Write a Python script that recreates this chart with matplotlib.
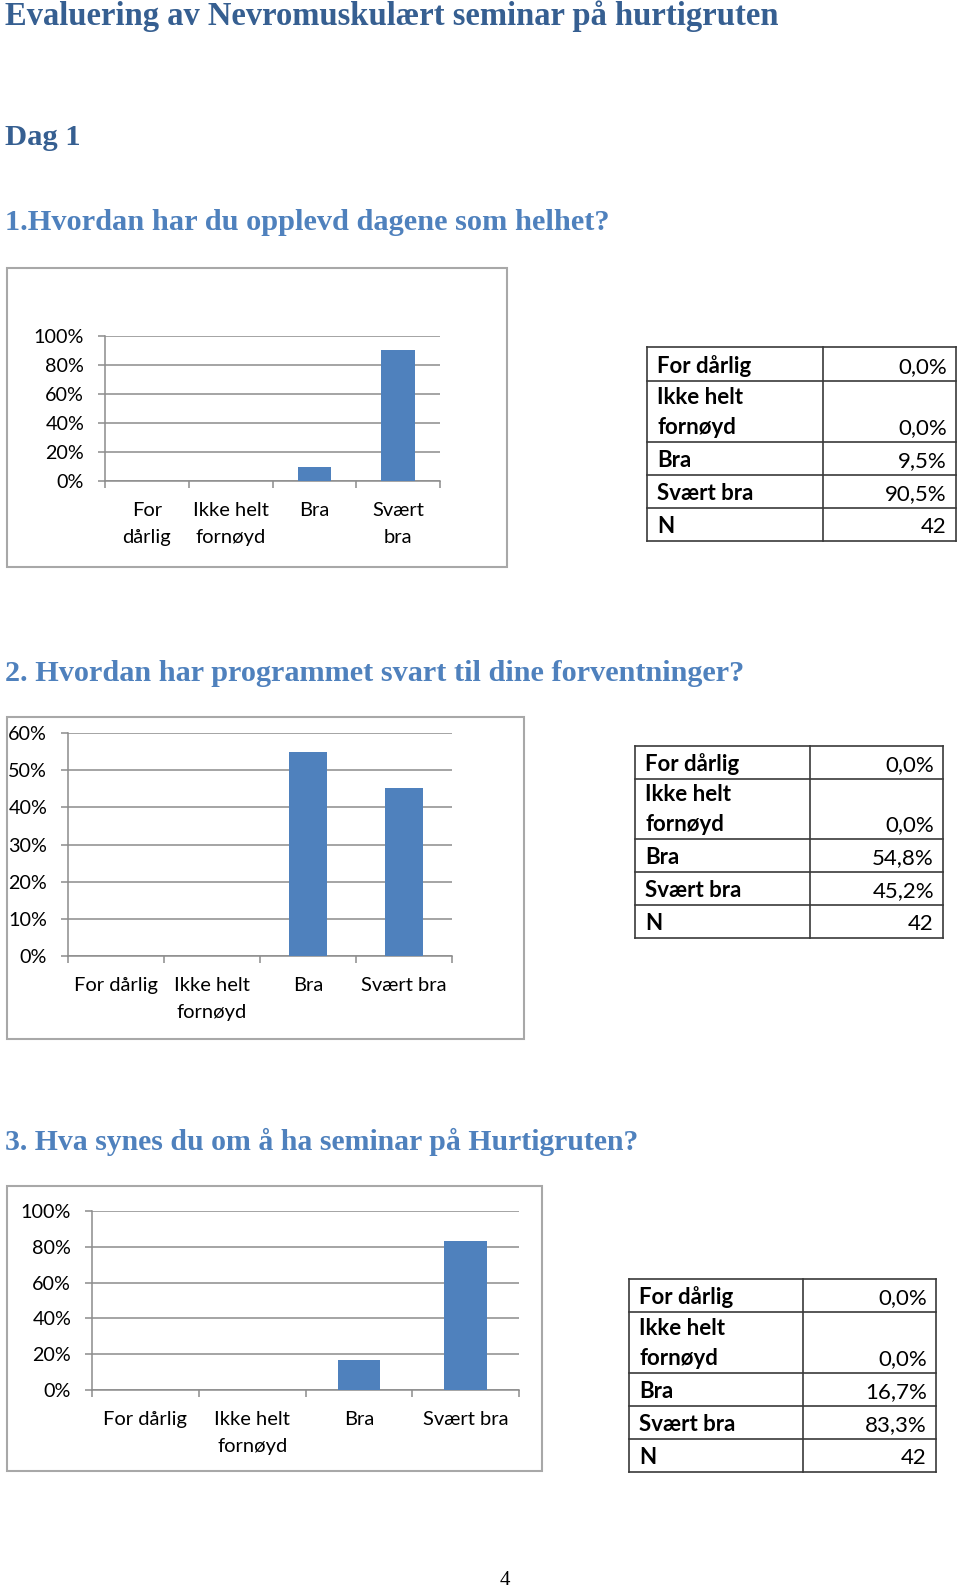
import matplotlib
matplotlib.use("Agg")
import matplotlib.pyplot as plt
from matplotlib.patches import Rectangle
from matplotlib.ticker import MultipleLocator, FuncFormatter

# ---------------- data ----------------
categories = ["For dårlig", "Ikke helt fornøyd", "Bra", "Svært bra"]
q1_values = [0.0, 0.0, 9.5, 90.5]
q2_values = [0.0, 0.0, 54.8, 45.2]
q3_values = [0.0, 0.0, 16.7, 83.3]
n_responses = [42, 42, 42]
q1_ticklabels = ["For\ndårlig", "Ikke helt\nfornøyd", "Bra", "Svært\nbra"]
q23_ticklabels = ["For dårlig", "Ikke helt\nfornøyd", "Bra", "Svært bra"]
table_labels = [["For dårlig"], ["Ikke helt", "fornøyd"], ["Bra"], ["Svært bra"], ["N"]]

page_title = "Evaluering av Nevromuskulært seminar på hurtigruten"
day_title = "Dag 1"
q1_title = "1.Hvordan har du opplevd dagene som helhet?"
q2_title = "2. Hvordan har programmet svart til dine forventninger?"
q3_title = "3. Hva synes du om å ha seminar på Hurtigruten?"
page_number = "4"

# ---------------- style ----------------
W, H = 960, 1588
BAR_C = "#4F81BD"
GRID_C = "#8C8C8C"
BOX_C = "#A8A8A8"
DARK_BLUE = "#365F91"
MID_BLUE = "#4F81BD"
SANS = ["Lato", "DejaVu Sans"]
SERIF = ["Liberation Serif", "DejaVu Serif"]

plt.rcParams["font.family"] = SANS

fig = plt.figure(figsize=(W / 100, H / 100), dpi=100)
fig.patch.set_facecolor("white")

bg = fig.add_axes([0, 0, 1, 1], zorder=0)
bg.set_xlim(0, W)
bg.set_ylim(H, 0)
bg.axis("off")

renderer = fig.canvas.get_renderer()


def heading(text, x, base, target_w, color):
    t = bg.text(x, base, text, fontfamily=SERIF, fontweight="bold",
                fontsize=20, va="baseline", ha="left", color=color)
    w = t.get_window_extent(renderer).width
    t.set_fontsize(20 * target_w / w * 0.99)
    return t


heading(page_title, 5, 25, 781, DARK_BLUE)
heading(day_title, 5, 145, 76, DARK_BLUE)
heading(q1_title, 5, 230, 610, MID_BLUE)
heading(q2_title, 5, 681, 747, MID_BLUE)
heading(q3_title, 5, 1150, 641, MID_BLUE)
bg.text(505, 1585, page_number, fontfamily=SERIF, fontsize=15,
        ha="center", va="baseline", color="black")


def px_axes(x0, y0, x1, y1):
    return fig.add_axes([x0 / W, 1 - y1 / H, (x1 - x0) / W, (y1 - y0) / H], zorder=2)


def bar_chart(box, plot, values, ymax, ystep, labels, xpad):
    bx0, by0, bx1, by1 = box
    bg.add_patch(Rectangle((bx0, by0), bx1 - bx0, by1 - by0, fill=False,
                           ec=BOX_C, lw=1.5))
    ax = px_axes(*plot)
    ax.patch.set_alpha(0)
    x = list(range(len(values)))
    ax.bar(x, values, width=0.4, color=BAR_C, zorder=3)
    ax.set_xlim(-0.5, len(values) - 0.5)
    ax.set_ylim(0, ymax)
    ax.yaxis.set_major_locator(MultipleLocator(ystep))
    ax.yaxis.set_major_formatter(FuncFormatter(lambda v, p: f"{v:.0f}%"))
    ax.grid(axis="y", color=GRID_C, lw=1.1)
    ax.set_axisbelow(True)
    for s in ("top", "right"):
        ax.spines[s].set_visible(False)
    for s in ("left", "bottom"):
        ax.spines[s].set_color(GRID_C)
        ax.spines[s].set_linewidth(1.1)
    ax.set_xticks(x)
    ax.set_xticklabels(labels, linespacing=1.72)
    ax.set_xticks([i - 0.5 for i in range(len(values) + 1)], minor=True)
    ax.tick_params(axis="x", which="major", length=0, pad=xpad, labelsize=14.5,
                   labelcolor="black")
    ax.tick_params(axis="x", which="minor", length=5, width=1.1, color=GRID_C)
    ax.tick_params(axis="y", length=5, width=1.1, color=GRID_C, pad=10,
                   labelsize=14.2, labelcolor="black")
    return ax


def value_text(v):
    return f"{v:.1f}".replace(".", ",") + "%"


def draw_table(x0, xm, x1, ys, values, n):
    lc = "#3A3A3A"
    for y in ys:
        bg.plot([x0, x1], [y, y], color=lc, lw=1.2, solid_capstyle="projecting")
    for x in (x0, xm, x1):
        bg.plot([x, x], [ys[0], ys[-1]], color=lc, lw=1.2, solid_capstyle="projecting")
    cells = [value_text(v) for v in values] + [str(n)]
    for i, (lab, val) in enumerate(zip(table_labels, cells)):
        bottom = ys[i + 1]
        for j, line in enumerate(lab):
            base = bottom - 8 - 30 * (len(lab) - 1 - j)
            bg.text(x0 + 10, base, line, fontsize=16, fontweight="bold",
                    ha="left", va="baseline", color="black")
        bg.text(x1 - 9, bottom - 8, val, fontsize=16, ha="right",
                va="baseline", color="black")


# chart 1
bar_chart((7, 268, 507, 567), (105, 336, 440, 481), q1_values, 100, 20,
          q1_ticklabels, 15)
draw_table(647, 823, 956, [347, 381, 442, 475, 508, 541], q1_values, n_responses[0])

# chart 2
bar_chart((7, 717, 524, 1039), (68, 733, 452, 956), q2_values, 60, 10,
          q23_ticklabels, 15)
draw_table(635, 810, 943, [746, 779, 839, 872, 905, 938], q2_values, n_responses[1])

# chart 3
bar_chart((7, 1186, 542, 1471), (92, 1211, 519, 1390), q3_values, 100, 20,
          q23_ticklabels, 15)
draw_table(629, 803, 936, [1279, 1312, 1373, 1406, 1439, 1472], q3_values, n_responses[2])

fig.savefig("out.png", dpi=100, facecolor="white")
